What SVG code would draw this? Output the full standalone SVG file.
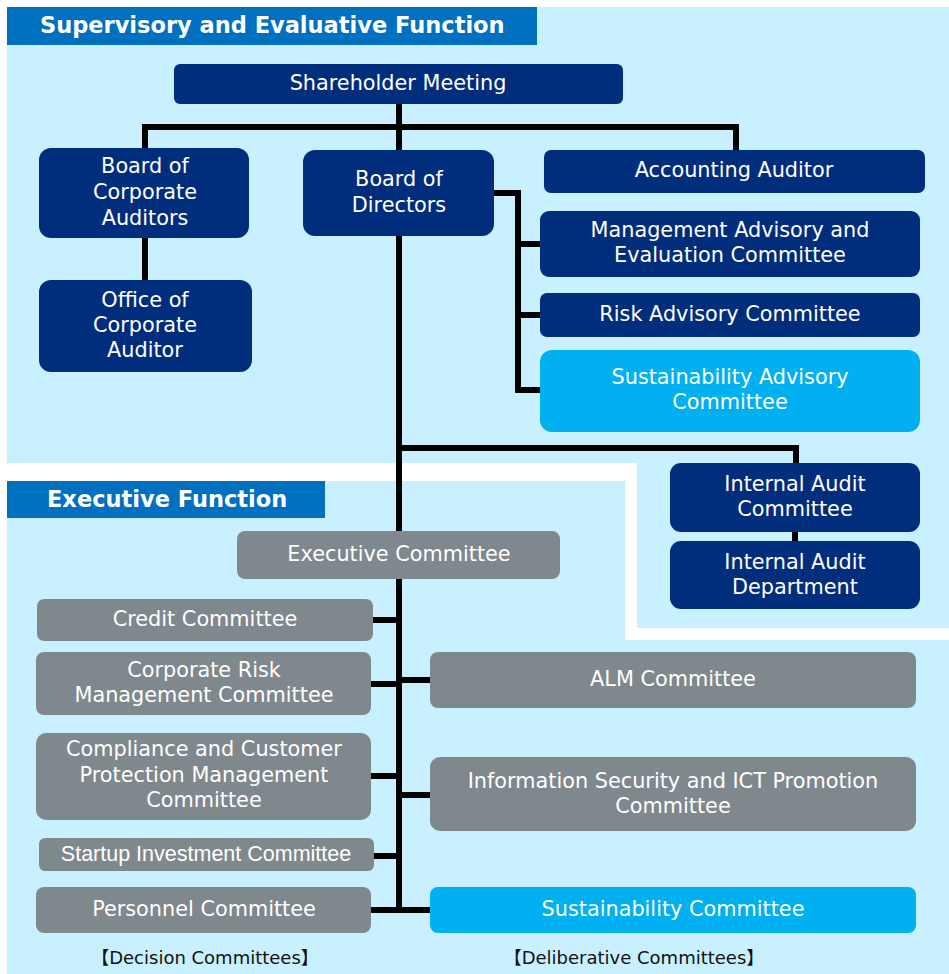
<svg xmlns="http://www.w3.org/2000/svg" width="949" height="974" viewBox="0 0 949 974">
<style>
.bg{fill:#C8F0FE}
.hdr{fill:#0070C0}
.hdrt{fill:#fff;font-family:"DejaVu Sans",Verdana,sans-serif;font-weight:bold;font-size:22.5px}
.navy{fill:#002D7C}
.cyan{fill:#00B0F0}
.gray{fill:#7F888D}
.t{fill:#fff;font-family:"DejaVu Sans",Verdana,sans-serif;font-size:20.8px;text-anchor:middle;dominant-baseline:central}
.ta{fill:#fff;font-family:"Liberation Sans",Arial,sans-serif;font-size:21.5px;text-anchor:middle;dominant-baseline:central}
.lbl{fill:#111;font-family:"DejaVu Sans","Noto Sans CJK JP",sans-serif;font-size:18px;text-anchor:middle;dominant-baseline:central}
.c{fill:none;stroke:#000;stroke-width:6;stroke-linejoin:miter}
</style>
<rect width="949" height="974" fill="#fff"/>
<g id="regions">
<polygon class="bg" points="7,7 949,7 949,628 637,628 637,463 7,463"/>
<polygon class="bg" points="7,481 625,481 625,640 949,640 949,974 7,974"/>
<rect class="hdr" x="7" y="7" width="530" height="38"/>
<text class="hdrt" x="40" y="33">Supervisory and Evaluative Function</text>
<rect class="hdr" x="7" y="481" width="318" height="37"/>
<text class="hdrt" x="47" y="507">Executive Function</text>
</g>
<g id="connectors">
<path class="c" d="M399,104 V910"/>
<path class="c" d="M145,148 V127 H736 V150"/>
<path class="c" d="M145,238 V280"/>
<path class="c" d="M494,193 H518 V390 H540 M518,244 H540 M518,315 H540"/>
<path class="c" d="M399,448 H796 V463"/>
<path class="c" d="M795,532 V541"/>
<path class="c" d="M373,620 H399 M371,684 H399 M371,776 H399 M374,856 H399 M371,910 H430 M399,680 H430 M399,795 H430"/>
</g>
<g id="shareholder"><rect class="navy" x="174" y="64" width="449" height="40" rx="6"/><text class="t" x="398" y="83">Shareholder Meeting</text></g>
<g id="board-auditors"><rect class="navy" x="39" y="148" width="210" height="90" rx="12"/><text class="t" x="145" y="166">Board of</text><text class="t" x="145" y="192">Corporate</text><text class="t" x="145" y="218">Auditors</text></g>
<g id="office-auditor"><rect class="navy" x="39" y="280" width="213" height="92" rx="12"/><text class="t" x="145" y="300">Office of</text><text class="t" x="145" y="325">Corporate</text><text class="t" x="145" y="350">Auditor</text></g>
<g id="board-directors"><rect class="navy" x="303" y="150" width="191" height="86" rx="12"/><text class="t" x="399" y="179">Board of</text><text class="t" x="399" y="205">Directors</text></g>
<g id="accounting-auditor"><rect class="navy" x="544" y="150" width="381" height="43" rx="7"/><text class="t" x="734" y="170">Accounting Auditor</text></g>
<g id="mgmt-advisory"><rect class="navy" x="540" y="211" width="380" height="66" rx="9"/><text class="t" x="730" y="230">Management Advisory and</text><text class="t" x="730" y="255">Evaluation Committee</text></g>
<g id="risk-advisory"><rect class="navy" x="540" y="293" width="380" height="44" rx="7"/><text class="t" x="730" y="314">Risk Advisory Committee</text></g>
<g id="sust-advisory"><rect class="cyan" x="540" y="350" width="380" height="82" rx="12"/><text class="t" x="730" y="377">Sustainability Advisory</text><text class="t" x="730" y="402">Committee</text></g>
<g id="ia-committee"><rect class="navy" x="670" y="463" width="250" height="69" rx="11"/><text class="t" x="795" y="484">Internal Audit</text><text class="t" x="795" y="509">Committee</text></g>
<g id="ia-department"><rect class="navy" x="670" y="541" width="250" height="68" rx="11"/><text class="t" x="795" y="562">Internal Audit</text><text class="t" x="795" y="587">Department</text></g>
<g id="executive"><rect class="gray" x="237" y="531" width="323" height="48" rx="8"/><text class="t" x="399" y="554">Executive Committee</text></g>
<g id="credit"><rect class="gray" x="37" y="599" width="336" height="42" rx="7"/><text class="t" x="205" y="619">Credit Committee</text></g>
<g id="corp-risk"><rect class="gray" x="36" y="652" width="335" height="63" rx="8"/><text class="t" x="204" y="670">Corporate Risk</text><text class="t" x="204" y="695">Management Committee</text></g>
<g id="compliance"><rect class="gray" x="36" y="733" width="335" height="87" rx="10"/><text class="t" x="204" y="749">Compliance and Customer</text><text class="t" x="204" y="775">Protection Management</text><text class="t" x="204" y="800">Committee</text></g>
<g id="startup"><rect class="gray" x="39" y="838" width="335" height="33" rx="6"/><text class="ta" x="206" y="854">Startup Investment Committee</text></g>
<g id="personnel"><rect class="gray" x="36" y="887" width="335" height="46" rx="8"/><text class="t" x="204" y="909">Personnel Committee</text></g>
<g id="alm"><rect class="gray" x="430" y="652" width="486" height="56" rx="8"/><text class="t" x="673" y="679">ALM Committee</text></g>
<g id="infosec"><rect class="gray" x="430" y="757" width="486" height="74" rx="10"/><text class="t" x="673" y="781">Information Security and ICT Promotion</text><text class="t" x="673" y="806">Committee</text></g>
<g id="sustainability"><rect class="cyan" x="430" y="887" width="486" height="46" rx="8"/><text class="t" x="673" y="909">Sustainability Committee</text></g>
<g id="labels"><text class="lbl" x="205" y="957">【Decision Committees】</text><text class="lbl" x="634" y="957">【Deliberative Committees】</text></g>
</svg>
